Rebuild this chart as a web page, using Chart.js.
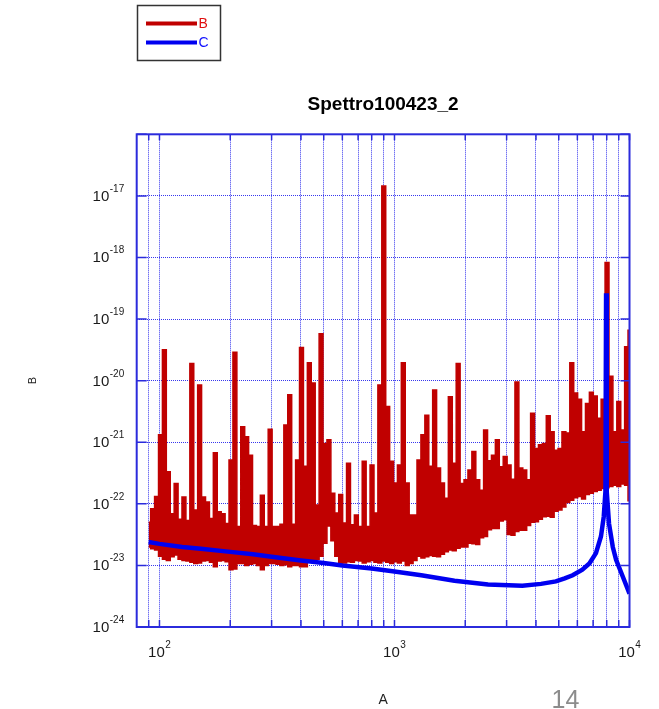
<!DOCTYPE html>
<html>
<head>
<meta charset="utf-8">
<title>Spettro100423_2</title>
<script src="https://cdn.jsdelivr.net/npm/chart.js@4.4.1/dist/chart.umd.min.js"></script>
<style>
    html, body { margin: 0; padding: 0; background: #fff; }
    #wrap { width: 659px; height: 709px; }
</style>
</head>
<body>
<div id="wrap"><canvas id="spectrum" width="659" height="709"></canvas></div>
<script>
// --- Data ---
// Frequency columns of spectrum B (Hz)
const freqB = [
    90, 93.5, 97.2, 101, 104.9, 109, 113.3, 117.7, 122.3, 127.1,
    132.1, 137.3, 142.6, 148.2, 154, 160.1, 166.3, 172.8, 179.6, 186.6,
    193.9, 201.5, 209.4, 217.6, 226.1, 234.9, 244.1, 253.7, 263.6, 273.9,
    284.6, 295.8, 307.3, 319.4, 331.8, 344.8, 358.3, 372.3, 386.9, 402,
    417.8, 434.1, 451.1, 468.8, 487.1, 506.2, 526, 546.6, 568, 590.2,
    613.3, 637.3, 662.2, 688.2, 715.1, 743.1, 772.2, 802.4, 833.8, 866.4,
    900.3, 935.5, 972.2, 1010, 1049, 1090, 1133, 1177, 1223, 1271,
    1321, 1373, 1426, 1482, 1540, 1601, 1663, 1728, 1796, 1866,
    1939, 2015, 2094, 2176, 2261, 2349, 2441, 2537, 2636, 2739,
    2846, 2958, 3073, 3194, 3318, 3448, 3583, 3723, 3869, 4020,
    4178, 4341, 4511, 4688, 4871, 5062, 5260, 5466, 5680, 5902,
    6133, 6373, 6622, 6882, 7151, 7431, 7722, 8024, 8338, 8664,
    9003, 9355, 9718, 10000
];

// Spectrum B, per-column maximum (log10 of value)
const bMaxExp = [
    -22.30, -22.08, -21.88, -20.88, -19.50, -21.48, -22.16, -21.67, -22.25, -21.89,
    -22.27, -19.72, -22.10, -20.07, -21.89, -21.97, -22.24, -21.17, -22.13, -22.16,
    -22.32, -21.29, -19.54, -22.37, -20.75, -20.91, -21.21, -22.35, -22.37, -21.86,
    -22.37, -20.79, -22.37, -22.37, -22.33, -20.72, -20.23, -22.33, -21.29, -19.46,
    -21.39, -19.71, -20.04, -22.02, -19.24, -21.02, -20.96, -21.83, -22.15, -21.85,
    -22.31, -21.34, -22.34, -22.18, -22.37, -21.31, -22.37, -21.37, -22.15, -20.07,
    -16.84, -20.42, -21.31, -21.66, -21.37, -19.71, -21.66, -22.18, -22.18, -21.29,
    -20.88, -20.56, -21.39, -20.15, -21.42, -21.66, -21.91, -20.26, -21.34, -19.72,
    -21.67, -21.61, -21.45, -21.15, -21.61, -21.78, -20.80, -21.30, -21.21, -20.96,
    -21.40, -21.23, -21.37, -21.60, -20.02, -21.42, -21.45, -21.61, -20.53, -21.10,
    -21.04, -21.02, -20.57, -20.83, -21.13, -21.10, -20.83, -20.85, -19.71, -20.20,
    -20.30, -20.83, -20.37, -20.19, -20.25, -20.61, -20.30, -18.08, -19.93, -20.83,
    -20.34, -20.80, -19.45, -19.18
];

// Spectrum B, per-column minimum (log10 of value)
const bMinExp = [
    -22.70, -22.73, -22.75, -22.85, -22.90, -22.92, -22.86, -22.83, -22.90, -22.92,
    -22.93, -22.95, -22.97, -22.96, -22.93, -22.92, -22.95, -23.02, -22.93, -22.92,
    -22.94, -23.07, -23.06, -22.97, -22.97, -23.00, -22.98, -22.97, -23.00, -23.07,
    -23.00, -22.97, -22.97, -22.98, -23.00, -22.99, -23.02, -23.00, -23.00, -23.02,
    -23.02, -22.95, -22.91, -22.90, -22.85, -22.64, -22.36, -22.60, -22.85, -22.98,
    -22.96, -22.94, -22.95, -22.92, -22.93, -22.96, -22.94, -22.92, -22.95, -22.96,
    -22.93, -22.95, -22.97, -22.94, -22.96, -22.93, -23.00, -22.97, -22.92, -22.85,
    -22.88, -22.86, -22.84, -22.85, -22.86, -22.82, -22.78, -22.75, -22.76, -22.72,
    -22.70, -22.70, -22.64, -22.65, -22.66, -22.55, -22.53, -22.42, -22.40, -22.40,
    -22.28, -22.26, -22.50, -22.51, -22.45, -22.43, -22.43, -22.35, -22.30, -22.29,
    -22.25, -22.21, -22.20, -22.22, -22.12, -22.10, -22.05, -21.98, -21.94, -21.90,
    -21.88, -21.92, -21.85, -21.83, -21.80, -21.78, -21.75, -21.74, -21.72, -21.70,
    -21.72, -21.68, -21.70, -21.95
];

// Curve C (Hz, log10 of value)
const freqC = [
    90, 100, 125, 150, 200, 250, 300, 400, 500, 600,
    800, 1000, 1300, 1800, 2500, 3500, 4200, 4860, 5300, 5730,
    6300, 6750, 7200, 7560, 7770, 7900, 7950, 8000, 8180, 8490,
    8770, 9360, 10000
];
const cExp = [
    -22.62, -22.65, -22.70, -22.73, -22.78, -22.82, -22.86, -22.92, -22.96, -23.00,
    -23.05, -23.10, -23.16, -23.25, -23.31, -23.33, -23.30, -23.26, -23.21, -23.16,
    -23.07, -22.97, -22.80, -22.53, -22.21, -21.80, -18.58, -21.80, -22.32, -22.70,
    -22.91, -23.18, -23.46
];

// Grid / tick positions
const xGridValues = [90, 100, 200, 300, 400, 500, 600, 700, 800, 900,
    1000, 2000, 3000, 4000, 5000, 6000, 7000, 8000, 9000, 10000];
const yGridValues = [1e-24, 1e-23, 1e-22, 1e-21, 1e-20, 1e-19, 1e-18, 1e-17, 1e-16];
const xLabelExps = [2, 3, 4];
const yLabelExps = [-24, -23, -22, -21, -20, -19, -18, -17];

const chartTitle = "Spettro100423_2";
const pageNumber = "14";

// --- Styles ---
const FONT = "'Liberation Sans', Arial, Helvetica, sans-serif";
const RED = "#c00000";
const BLUE = "#0000f0";
const FRAME_BLUE = "#2b2bdc";
const GRID_BLUE = "rgba(20, 20, 235, 0.85)";

const toPoints = (xs, exps) => xs.map((f, i) => ({ x: f, y: Math.pow(10, exps[i]) }));

// --- Superscript "10^n" label ---
function drawPower(ctx, exp, x, baseline, align) {
    const base = "10";
    const sup = String(exp);
    ctx.font = "15px " + FONT;
    const wb = ctx.measureText(base).width;
    ctx.font = "10px " + FONT;
    const ws = ctx.measureText(sup).width;
    const left = align === "right" ? x - wb - ws - 0.5 : x - (wb + ws + 0.5) / 2;
    ctx.textAlign = "left";
    ctx.textBaseline = "alphabetic";
    ctx.font = "15px " + FONT;
    ctx.fillText(base, left, baseline);
    ctx.font = "10px " + FONT;
    ctx.fillText(sup, left + wb + 0.5, baseline - 9);
}

// --- Frame, inner ticks, labels, title, legend ---
const decorations = {
    id: "decorations",
    afterDatasetsDraw(chart) {
        const { ctx, chartArea: a, scales } = chart;
        const x = scales.x;
        const y = scales.y;
        ctx.save();
        ctx.strokeStyle = FRAME_BLUE;
        ctx.lineWidth = 1.5;
        ctx.beginPath();
        xGridValues.forEach((v) => {
            const px = x.getPixelForValue(v);
            ctx.moveTo(px, a.bottom);
            ctx.lineTo(px, a.bottom - 7);
            ctx.moveTo(px, a.top);
            ctx.lineTo(px, a.top + 6);
        });
        yGridValues.forEach((v) => {
            const py = y.getPixelForValue(v);
            ctx.moveTo(a.left, py);
            ctx.lineTo(a.left + 10, py);
            ctx.moveTo(a.right, py);
            ctx.lineTo(a.right - 9, py);
        });
        ctx.stroke();
        ctx.lineWidth = 2;
        ctx.strokeRect(a.left, a.top, a.right - a.left, a.bottom - a.top);
        ctx.restore();
    },
    afterDraw(chart) {
        const { ctx, chartArea: a, scales } = chart;
        const x = scales.x;
        const y = scales.y;
        ctx.save();
        ctx.fillStyle = "#1a1a1a";
        xLabelExps.forEach((e) => {
            drawPower(ctx, e, x.getPixelForValue(Math.pow(10, e)), a.bottom + 29.5, "center");
        });
        yLabelExps.forEach((e) => {
            drawPower(ctx, e, a.left - 12.5, y.getPixelForValue(Math.pow(10, e)) + 5, "right");
        });

        // title
        ctx.fillStyle = "#000";
        ctx.font = "bold 19px " + FONT;
        ctx.textAlign = "center";
        ctx.textBaseline = "alphabetic";
        ctx.fillText(chartTitle, (a.left + a.right) / 2, 110);

        // legend box
        const sets = chart.data.datasets;
        const entries = [sets[0], sets[2]];
        ctx.strokeStyle = "#333";
        ctx.lineWidth = 1.5;
        ctx.strokeRect(137.5, 5.5, 83, 55);
        entries.forEach((ds, i) => {
            const ly = 23.5 + i * 19;
            ctx.strokeStyle = ds.borderColor;
            ctx.lineWidth = 4;
            ctx.beginPath();
            ctx.moveTo(146, ly);
            ctx.lineTo(197, ly);
            ctx.stroke();
            ctx.fillStyle = ds.borderColor === RED ? "#e01010" : "#1010ff";
            ctx.font = "14px " + FONT;
            ctx.textAlign = "left";
            ctx.textBaseline = "middle";
            ctx.fillText(ds.label, 198.5, ly + 0.5);
        });

        // page number
        ctx.fillStyle = "#8c8c8c";
        ctx.font = "25px " + FONT;
        ctx.textAlign = "left";
        ctx.textBaseline = "alphabetic";
        ctx.fillText(pageNumber, 551.5, 708);
        ctx.restore();
    },
};

// --- Chart ---
const ctx = document.getElementById("spectrum").getContext("2d");

const spectrumChart = new Chart(ctx, {
    type: "line",
    data: {
        datasets: [
            {
                label: "B",
                data: toPoints(freqB, bMaxExp),
                borderColor: RED,
                backgroundColor: RED,
                borderWidth: 1.5,
                stepped: "middle",
                fill: "+1",
                pointRadius: 0,
                order: 1,
            },
            {
                label: "B min",
                data: toPoints(freqB, bMinExp),
                borderColor: RED,
                borderWidth: 1.5,
                stepped: "middle",
                fill: false,
                pointRadius: 0,
                order: 2,
            },
            {
                label: "C",
                data: toPoints(freqC, cExp),
                borderColor: BLUE,
                borderWidth: 4.5,
                fill: false,
                pointRadius: 0,
                tension: 0,
                order: 0,
            },
        ],
    },
    options: {
        responsive: false,
        animation: false,
        devicePixelRatio: 1,
        events: [],
        layout: {
            padding: { top: 134.3, right: 29.5, left: 0, bottom: 0 },
        },
        plugins: {
            legend: { display: false },
            title: { display: false },
            tooltip: { enabled: false },
        },
        scales: {
            x: {
                type: "logarithmic",
                min: 80,
                max: 10000,
                afterBuildTicks: (s) => {
                    s.ticks = xGridValues.map((v) => ({ value: v }));
                },
                afterFit: (s) => {
                    s.height = 82;
                },
                grid: { color: GRID_BLUE, lineWidth: 1, drawTicks: false },
                border: { display: false, dash: [1, 1] },
                ticks: { display: false },
                title: {
                    display: true,
                    text: "A",
                    color: "#222",
                    font: { family: FONT, size: 14 },
                    padding: { top: 0, bottom: 0 },
                },
            },
            y: {
                type: "logarithmic",
                min: 1e-24,
                max: 1e-16,
                afterBuildTicks: (s) => {
                    s.ticks = yGridValues.map((v) => ({ value: v }));
                },
                afterFit: (s) => {
                    s.width = 136.7;
                },
                grid: { color: GRID_BLUE, lineWidth: 1, drawTicks: false },
                border: { display: false, dash: [1, 1] },
                ticks: { display: false },
                title: {
                    display: true,
                    text: "B",
                    color: "#222",
                    font: { family: FONT, size: 11 },
                    padding: { top: 26, bottom: 0 },
                },
            },
        },
    },
    plugins: [decorations],
});
</script>
</body>
</html>
